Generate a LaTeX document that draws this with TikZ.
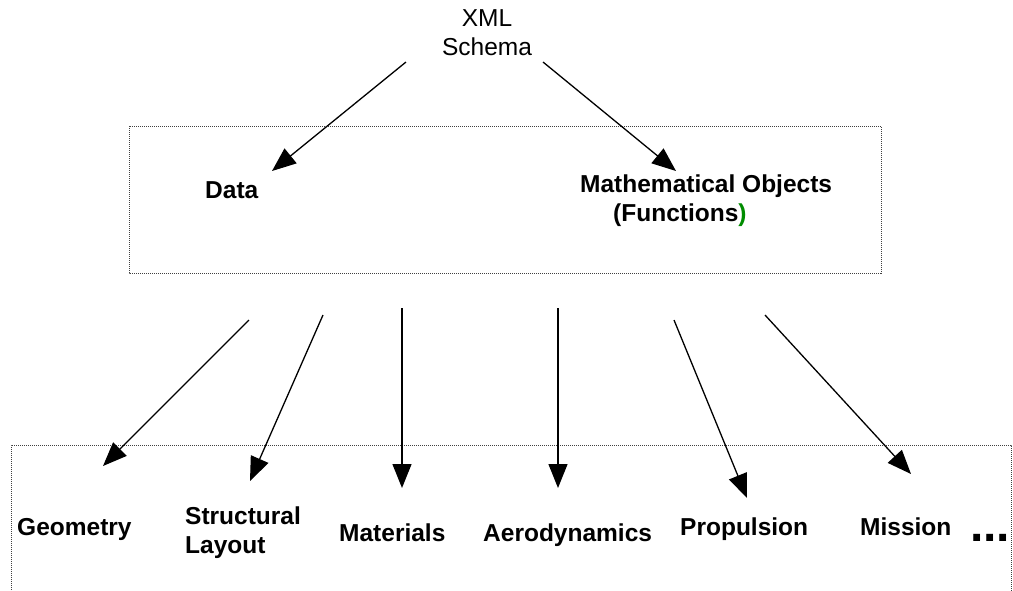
\documentclass[tikz,border=0pt]{standalone}
\usepackage{fontspec}
\setmainfont{Liberation Sans}
\usetikzlibrary{arrows.meta}
\tikzset{
  lbl/.style={inner sep=0pt, font=\fontsize{24.5}{29}\selectfont\bfseries},
  plain/.style={inner sep=0pt, font=\fontsize{24.5}{29}\selectfont},
  frame/.style={draw=black!75, line width=1pt, dash pattern=on 1pt off 1pt},
  arr/.style={line width=1.3pt, -{Triangle[length=24pt,width=19pt]}}
}
\begin{document}
\begin{tikzpicture}[x=1pt,y=-1pt]
\useasboundingbox (0,0) rectangle (1013,590);
\begin{scope}
\clip (0,0) rectangle (1013,590);
% frames
\draw[frame] (129,126) rectangle (881,273);
\draw[frame] (11,600) -- (11,445) -- (1011,445) -- (1011,600);
% top
\node[plain, align=center] (xml) at (487,33) {XML\\Schema};
\node[lbl, anchor=base west] (data) at (205,198) {Data};
\node[lbl, anchor=base west, align=left] (math) at (580,221)
  {Mathematical Objects\\\hspace*{33pt}(Functions{\color{green!55!black})}};
% bottom labels
\node[lbl, anchor=base west] (geo) at (17,535) {Geometry};
\node[lbl, anchor=base west, align=left] (struct) at (185,553) {Structural\\Layout};
\node[lbl, anchor=base west] (mat) at (339,541) {Materials};
\node[lbl, anchor=base west] (aero) at (483,541) {Aerodynamics};
\node[lbl, anchor=base west] (prop) at (680,535) {Propulsion};
\node[lbl, anchor=base west] (miss) at (860,535) {Mission};
\node[anchor=base west, inner sep=0pt, font=\fontsize{48}{48}\selectfont\bfseries] (more) at (970,541) {...};
% connector ends
\coordinate (xa) at (406,62);
\coordinate (xb) at (543,62);
\coordinate (dt) at (272,171);
\coordinate (mt) at (676,171);
\coordinate (s1) at (249,320); \coordinate (t1) at (103,466);
\coordinate (s2) at (323,315); \coordinate (t2) at (250,481);
\coordinate (s3) at (402,308); \coordinate (t3) at (402,488);
\coordinate (s4) at (558,308); \coordinate (t4) at (558,488);
\coordinate (s5) at (674,320); \coordinate (t5) at (747,498);
\coordinate (s6) at (765,315); \coordinate (t6) at (911,474);
\draw[arr] (xa) -- (dt);
\draw[arr] (xb) -- (mt);
\draw[arr] (s1) -- (t1);
\draw[arr] (s2) -- (t2);
\draw[arr] (s3) -- (t3);
\draw[arr] (s4) -- (t4);
\draw[arr] (s5) -- (t5);
\draw[arr] (s6) -- (t6);
\end{scope}
\end{tikzpicture}
\end{document}
